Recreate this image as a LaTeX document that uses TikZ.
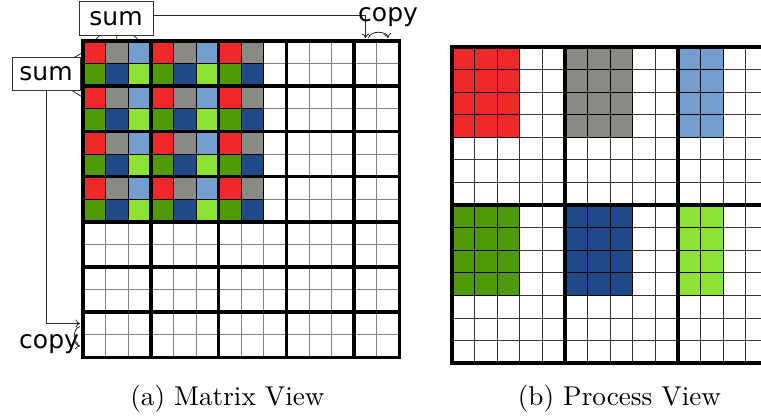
\documentclass[tikz,border=0pt]{standalone}
\usepackage{fontspec}
\usepackage{xcolor}
\usepackage{tikz}
\usetikzlibrary{positioning,arrows.meta,backgrounds,calc}
\newfontfamily\labelfont{DejaVu Sans}
\definecolor{ProcRed}{HTML}{EF2929}
\definecolor{ProcGrey}{HTML}{888A85}
\definecolor{ProcSky}{HTML}{729FCF}
\definecolor{ProcGreen}{HTML}{4E9A06}
\definecolor{ProcBlue}{HTML}{204A87}
\definecolor{ProcLime}{HTML}{8AE234}
% colour of process (row,col) on the 2x3 grid
\colorlet{p00}{ProcRed}
\colorlet{p01}{ProcGrey}
\colorlet{p02}{ProcSky}
\colorlet{p10}{ProcGreen}
\colorlet{p11}{ProcBlue}
\colorlet{p12}{ProcLime}
\newcommand{\capscale}[1]{\scalebox{2.72}{\fontsize{10}{12}\selectfont #1}}

\begin{document}
\begin{tikzpicture}[x=1pt,y=-1pt,
    >={To[length=4.5pt,width=8pt]},
    cell/.style={draw=gray,line width=0.9pt},
    pcell/.style={draw=black!80,line width=0.8pt},
    owned/.style={draw=black,line width=0.8pt},
    bold/.style={line width=3.6pt,line cap=rect},
    opbox/.style={draw=black!80,fill=white,line width=0.8pt,inner sep=0pt,
                  font=\labelfont\fontsize{25}{30}\selectfont},
    oplabel/.style={inner sep=0pt,font=\labelfont\fontsize{25}{30}\selectfont},
    caption/.style={inner sep=0pt,anchor=base},
    conn/.style={black!85,line width=0.8pt}]
  \clip (0,0) rectangle (761,416);
  \def\cs{22.6}

  % (a) matrix view
  \foreach \r in {0,...,13}
    \foreach \c in {0,...,13}
      \draw[cell] ({83+\c*\cs},{41+\r*\cs}) rectangle ++(\cs,\cs);
  \foreach \r in {0,...,7}
    \foreach \c in {0,...,7}{
      \pgfmathtruncatemacro\pr{mod(\r,2)}
      \pgfmathtruncatemacro\pc{mod(\c,3)}
      \draw[owned,fill=p\pr\pc] ({83+\c*\cs},{41+\r*\cs}) rectangle ++(\cs,\cs);
    }
  \foreach \c in {0,3,6,9,12,14}
    \draw[bold] ({83+\c*\cs},41) -- ++(0,{14*\cs});
  \foreach \r in {0,2,...,14}
    \draw[bold] (83,{41+\r*\cs}) -- ++({14*\cs},0);
  \foreach \i in {0,...,13}{
    \coordinate (top-\i) at ({83+(\i+0.5)*\cs},41);
    \coordinate (left-\i) at (83,{41+(\i+0.5)*\cs});
  }

  % (b) process view
  \foreach \r in {0,...,13}
    \foreach \c in {0,...,13}
      \draw[pcell] ({451.7+\c*\cs},{46.7+\r*\cs}) rectangle ++(\cs,\cs);
  \foreach \pr in {0,1}
    \foreach \pc/\w in {0/3,1/3,2/2}
      \foreach \r in {0,...,3}
        \foreach \c in {1,...,\w}
          \draw[owned,fill=p\pr\pc] ({451.7+(\pc*5+\c-1)*\cs},{46.7+(\pr*7+\r)*\cs})
            rectangle ++(\cs,\cs);
  \foreach \c in {0,5,10,14}
    \draw[bold] ({451.7+\c*\cs},46.7) -- ++(0,{14*\cs});
  \foreach \r in {0,7,14}
    \draw[bold] (451.7,{46.7+\r*\cs}) -- ++({14*\cs},0);

  % reductions and copies
  \node[opbox,minimum width=74pt,minimum height=34pt] (colsum) at (116,18.5) {sum};
  \node[opbox,minimum width=68pt,minimum height=33pt] (rowsum) at (46,74) {sum};
  \begin{scope}[on background layer]
    \foreach \i in {0,1,2}{
      \draw[conn] (colsum.center) -- (top-\i);
      \draw[conn] (rowsum.center) -- (left-\i);
    }
  \end{scope}
  \draw[conn,->] ([yshift=3.5pt]colsum.east) -| ([yshift=3pt]top-12);
  \draw[conn,->] ([xshift=3pt,yshift=3pt]top-12) to[bend left=80] ([yshift=3pt]top-13);
  \draw[conn,->] (rowsum.south) |- ([xshift=-3pt]left-12);
  \draw[conn,->] ([xshift=-3pt,yshift=-3pt]left-12) to[bend right=80] ([xshift=-3pt]left-13);
  \node[oplabel,anchor=base west] (copytop) at (358,21) {copy};
  \node[oplabel,anchor=base west] (copyleft) at (19,348) {copy};

  \node[caption] (capa) at (227.5,405) {\capscale{(a) Matrix View}};
  \node[caption] (capb) at (619.5,405) {\capscale{(b) Process View}};
\end{tikzpicture}
\end{document}
